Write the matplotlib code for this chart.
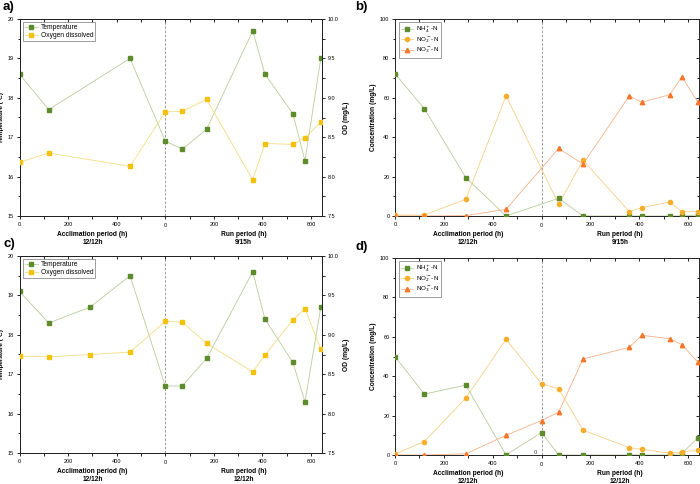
import matplotlib
matplotlib.use("Agg")
import matplotlib.pyplot as plt
from matplotlib.ticker import FixedLocator, MultipleLocator
import matplotlib.transforms as mtransforms

plt.rcParams['font.family'] = ['Liberation Sans', 'DejaVu Sans']

# ---------------- data ----------------
OFFSET = 600  # run period starts after acclimation segment on the shared axis
XMAX = 645

# panel a
acc_t_a = [0, 120, 455]
run_t_a = [0, 70, 170, 360, 410, 525, 575, 640]
temp_acc_a = [18.6, 17.7, 19.0]
temp_run_a = [16.9, 16.7, 17.2, 19.7, 18.6, 17.6, 16.4, 19.0]
od_acc_a = [8.18, 8.30, 8.13]
od_run_a = [8.82, 8.83, 8.98, 7.96, 8.42, 8.41, 8.49, 8.69]

# panel b
acc_t_b = [0, 120, 290, 455]
run_t_b = [70, 170, 360, 410, 525, 575, 640]
nh4_acc_b = [72.2, 54.5, 19.5, 0.0]
nh4_run_b = [9.0, 0.0, 0.0, 0.0, 0.0, 0.0, 0.5]
no2_acc_b = [0.5, 0.5, 8.5, 61.0]
no2_run_b = [6.0, 28.3, 2.2, 4.2, 7.1, 2.2, 2.2]
no3_acc_b = [0.0, 0.0, 0.2, 3.4]
no3_run_b = [34.3, 26.4, 61.0, 57.7, 61.6, 70.6, 57.9]

# panel c
acc_t_c = [0, 120, 290, 455]
run_t_c = [0, 70, 170, 360, 410, 525, 575, 640]
temp_acc_c = [19.1, 18.3, 18.7, 19.5]
temp_run_c = [16.7, 16.7, 17.4, 19.6, 18.4, 17.3, 16.3, 18.7]
od_acc_c = [8.73, 8.72, 8.75, 8.78]
od_run_c = [9.17, 9.16, 8.89, 8.53, 8.74, 9.19, 9.33, 8.82]

# panel d
acc_t_d = [0, 120, 290, 455]
run_t_d = [0, 70, 170, 360, 410, 525, 575, 640]
nh4_acc_d = [50.0, 30.9, 35.5, 0.0]
nh4_run_d = [11.4, 0.0, 0.0, 0.0, 0.0, 0.0, 0.8, 8.7]
no2_acc_d = [0.5, 6.8, 28.9, 58.7]
no2_run_d = [36.2, 33.6, 12.6, 3.7, 2.9, 1.0, 1.4, 2.7]
no3_acc_d = [0.0, 0.0, 0.6, 10.0]
no3_run_d = [17.5, 21.7, 48.7, 54.7, 60.8, 59.0, 56.0, 47.2]

acc_tick_labels = ["0", "200", "400"]
run_tick_labels = ["200", "400", "600"]
photoperiod_top = ["12/12h", "9/15h"]
photoperiod_bottom = ["12/12h", "12/12h"]

# ---------------- styles ----------------
C_TEMP, L_TEMP = "#5e8b2c", "#b9cc9c"
C_OD, L_OD = "#f4c20d", "#f6dc84"
C_NO2, L_NO2 = "#f7ae2a", "#f8cf86"
C_NO3, L_NO3 = "#f4772a", "#f6b18a"
TICK_FS = 4.0
LAB_FS = 4.8
LEG_FS = 4.8


def xs(acc, run):
    return list(acc) + [OFFSET + t for t in run]


def style_x(ax, periods):
    ax.set_xlim(0, OFFSET + XMAX)
    ax.xaxis.set_major_locator(FixedLocator([0, 200, 400, OFFSET + 200, OFFSET + 400, OFFSET + 600]))
    ax.set_xticklabels(acc_tick_labels + run_tick_labels)
    ax.xaxis.set_minor_locator(FixedLocator([100, 300, 500, OFFSET, OFFSET + 100, OFFSET + 300, OFFSET + 500]))
    ax.axvline(OFFSET, color="#8a8a8a", lw=0.6, ls=(0, (3, 2)), zorder=1)
    tr = mtransforms.blended_transform_factory(ax.transData, ax.transAxes)
    ax.text(OFFSET, -0.05, "0", transform=tr, ha="center", va="center", fontsize=TICK_FS)
    ax.text(300, -0.093, "Acclimation period (h)", transform=tr, ha="center", va="center",
            fontsize=LAB_FS, fontweight="bold")
    ax.text(OFFSET + 322, -0.093, "Run period (h)", transform=tr, ha="center", va="center",
            fontsize=LAB_FS, fontweight="bold")
    ax.text(300, -0.135, periods[0], transform=tr, ha="center", va="center",
            fontsize=LAB_FS, fontweight="bold")
    ax.text(OFFSET + 322, -0.135, periods[1], transform=tr, ha="center", va="center",
            fontsize=LAB_FS, fontweight="bold")


def base_ticks(ax, right_in=True):
    ax.tick_params(axis="both", which="both", labelsize=TICK_FS, width=0.6, pad=1.5)
    ax.tick_params(axis="both", which="major", length=2.5)
    ax.tick_params(axis="both", which="minor", length=1.8)
    ax.tick_params(axis="x", which="both", direction="out", top=True)
    ax.tick_params(axis="y", which="both", direction="out", right=right_in)
    for sp in ax.spines.values():
        sp.set_linewidth(0.7)
        sp.set_color("#222222")


def set_top_in(ax):
    # top ticks inward (Origin style)
    ax.tick_params(axis="x", which="both", top=True)
    for t in ax.xaxis.get_major_ticks() + ax.xaxis.get_minor_ticks():
        t.tick2line.set_marker(matplotlib.lines.TICKDOWN)


def temp_panel(ax, acc_t, run_t, temp_acc, temp_run, od_acc, od_run, periods):
    x = xs(acc_t, run_t)
    ax.plot(x, temp_acc + temp_run, color=L_TEMP, lw=0.6, zorder=2)
    ax.plot(x, temp_acc + temp_run, ls="none", marker="s", ms=2.8, mfc=C_TEMP, mec=C_TEMP, zorder=3)
    ax.set_ylim(15, 20)
    ax.yaxis.set_major_locator(MultipleLocator(1))
    ax.yaxis.set_minor_locator(MultipleLocator(0.5))
    ax.set_ylabel("Temperature (ºC)", fontsize=LAB_FS - 0.2, fontweight="bold")
    ax.yaxis.set_label_coords(-0.052, 0.5)
    base_ticks(ax, right_in=False)
    style_x(ax, periods)
    ax2 = ax.twinx()
    ax2.plot(x, od_acc + od_run, color=L_OD, lw=0.6, zorder=2)
    ax2.plot(x, od_acc + od_run, ls="none", marker="s", ms=2.8, mfc=C_OD, mec=C_OD, zorder=3)
    ax2.set_ylim(7.5, 10.0)
    ax2.yaxis.set_major_locator(MultipleLocator(0.5))
    ax2.yaxis.set_minor_locator(MultipleLocator(0.25))
    ax2.set_ylabel("OD (mg/L)", fontsize=LAB_FS, fontweight="bold", labelpad=3)
    ax2.tick_params(axis="y", which="both", labelsize=TICK_FS, width=0.6, pad=1.5, direction="out")
    ax2.tick_params(axis="y", which="major", length=2.5)
    ax2.tick_params(axis="y", which="minor", length=1.8)
    ax2.yaxis.set_major_formatter(matplotlib.ticker.FormatStrFormatter("%.1f"))
    for sp in ax2.spines.values():
        sp.set_linewidth(0.7)
        sp.set_color("#222222")
    h1 = matplotlib.lines.Line2D([], [], color=L_TEMP, lw=0.6, marker="s", ms=2.8, mfc=C_TEMP, mec=C_TEMP)
    h2 = matplotlib.lines.Line2D([], [], color=L_OD, lw=0.6, marker="s", ms=2.8, mfc=C_OD, mec=C_OD)
    leg = ax2.legend([h1, h2], ["Temperature", "Oxygen dissolved"], loc="upper left",
                     fontsize=LEG_FS, frameon=True, fancybox=False, borderpad=0.3,
                     handlelength=2.0, handletextpad=0.4, labelspacing=0.2,
                     bbox_to_anchor=(0.01, 0.985), borderaxespad=0.0)
    leg.get_frame().set_linewidth(0.5)
    leg.get_frame().set_edgecolor("#555555")
    set_top_in(ax)


def n_panel(ax, acc_t, run_t, nh4, no2, no3, periods):
    x = xs(acc_t, run_t)
    specs = [(nh4, "s", C_TEMP, L_TEMP, "NH$_4^+$-N", 2.6),
             (no2, "o", C_NO2, L_NO2, "NO$_2^-$-N", 3.0),
             (no3, "^", C_NO3, L_NO3, "NO$_3^-$-N", 3.2)]
    handles = []
    for vals, mk, c, lc, lab, ms in specs:
        ax.plot(x, vals, color=lc, lw=0.6, zorder=2)
        ax.plot(x, vals, ls="none", marker=mk, ms=ms, mfc=c, mec=c, zorder=3, clip_on=True)
        handles.append(matplotlib.lines.Line2D([], [], color=lc, lw=0.6, marker=mk, ms=ms, mfc=c, mec=c))
    ax.set_ylim(0, 100)
    ax.yaxis.set_major_locator(MultipleLocator(20))
    ax.yaxis.set_minor_locator(MultipleLocator(10))
    ax.set_ylabel("Concentration (mg/L)", fontsize=LAB_FS, fontweight="bold", labelpad=2.5)
    base_ticks(ax, right_in=True)
    style_x(ax, periods)
    for t in ax.yaxis.get_major_ticks() + ax.yaxis.get_minor_ticks():
        t.tick2line.set_marker(matplotlib.lines.TICKLEFT)
    set_top_in(ax)
    leg = ax.legend(handles, [s[4] for s in specs], loc="upper left", fontsize=LEG_FS - 0.3,
                    frameon=True, fancybox=False, borderpad=0.35, handlelength=2.0,
                    handletextpad=0.4, labelspacing=0.15,
                    bbox_to_anchor=(0.012, 0.985), borderaxespad=0.0)
    leg.get_frame().set_linewidth(0.5)
    leg.get_frame().set_edgecolor("#555555")


fig = plt.figure(figsize=(7.0, 4.84), dpi=100)
W, H = 700.0, 484.0


def rect(l, r, t, b):
    return [l / W, 1 - b / H, (r - l) / W, (b - t) / H]


ax_a = fig.add_axes(rect(19.5, 322, 19, 216))
ax_b = fig.add_axes(rect(395, 699, 19, 216))
ax_c = fig.add_axes(rect(19.5, 322, 256, 453))
ax_d = fig.add_axes(rect(395, 699, 258, 455))

temp_panel(ax_a, acc_t_a, run_t_a, temp_acc_a, temp_run_a, od_acc_a, od_run_a, photoperiod_top)
n_panel(ax_b, acc_t_b, run_t_b, nh4_acc_b + nh4_run_b, no2_acc_b + no2_run_b,
        no3_acc_b + no3_run_b, photoperiod_top)
temp_panel(ax_c, acc_t_c, run_t_c, temp_acc_c, temp_run_c, od_acc_c, od_run_c, photoperiod_bottom)
n_panel(ax_d, acc_t_d, run_t_d, nh4_acc_d + nh4_run_d, no2_acc_d + no2_run_d,
        no3_acc_d + no3_run_d, photoperiod_bottom)
ax_d.text(575, 1.2, "0", ha="center", va="center", fontsize=TICK_FS, color="#333333")

for lab, (px, py) in zip(["a)", "b)", "c)", "d)"], [(3, 7), (355, 7), (3, 244), (355, 247)]):
    fig.text(px / W, 1 - py / H, lab, fontsize=9.5, fontweight="bold", ha="left", va="center")

fig.savefig("out.png", dpi=100)
